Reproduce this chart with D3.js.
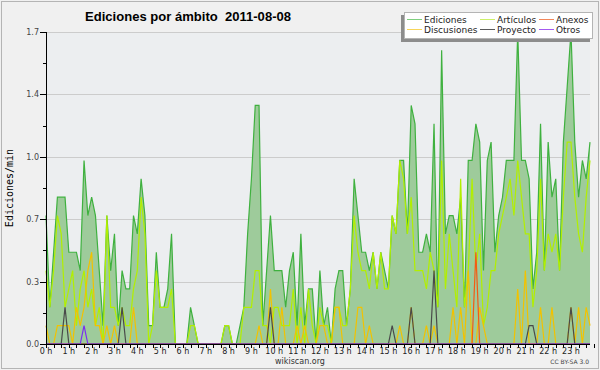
<!DOCTYPE html>
<html>
<head>
<meta charset="utf-8">
<script src="https://cdn.jsdelivr.net/npm/d3@7"></script>
<style>
  body { margin: 0; background: #fff; }
  svg text { font-family: "DejaVu Sans", sans-serif; }
</style>
</head>
<body>
<div id="chart"></div>
<script>
// 10-minute bins over the day, edits per minute
const ediciones = [
  0.7,0.2,0.5,0.8,0.8,0.8,0.5,0.5,0.5,0.4, 1.0,0.7,0.8,0.7,0.4,0.1,0.7,0.4,0.6,0.1,
  0.4,0.3,0.3,0.7,0.6,0.9,0.7,0.1,0.1,0.5, 0.2,0.2,0.3,0.6,0,0,
  0,0,0.2,0.1,0,0,0,0,0,0, 0,0.1,0.1,0,0,0.1,0.2,0.6,0.9,1.3,
  1.3,0.1,0.4,0.7,0.4,0.4,0.4,0.2,0.4,0.5, 0.1,0.6,0.1,0.3,0.3,0,
  0.4,0.1,0.2,0,0.3,0.4,0.4,0.1,0.3,0.9, 0.7,0.5,0.5,0.4,0.5,0.3,0.5,0.4,0.3,0.7,
  0.6,1.0,1.0,0.6,1.3,1.2,0.5,0.5,0.6,0.5, 1.2,0.2,1.6,0.6,0.7,0.7,
  0.6,0.8,0.2,1.0,1.0,1.2,1.1,0.4,1.0,1.1, 0.5,0.7,0.8,1.0,1.0,1.0,1.7,1.0,1.0,0.9,
  0.3,0.5,1.2,0.4,1.1,0.8,0.9,0.4,1.1,1.4, 1.7,1.1,0.8,1.0,0.9,1.1
];
const articulos = [
  0.4,0.2,0.4,0.7,0.6,0.2,0.3,0.4,0.1,0.3, 0.4,0.2,0.3,0.1,0.2,0,0.7,0.2,0.2,0.1,
  0.2,0.1,0.1,0.3,0.4,0.8,0.6,0,0.1,0.4, 0.2,0.2,0.2,0.3,0,0,
  0,0,0.1,0.1,0,0,0,0,0,0, 0,0.1,0.1,0,0,0,0.2,0.2,0.2,0.4,
  0.4,0.1,0.1,0,0.2,0.2,0.1,0.1,0.1,0.3, 0,0.2,0,0.3,0.1,0,
  0.2,0.1,0.1,0,0.2,0.2,0.1,0.1,0.3,0.7, 0.5,0.4,0.4,0.3,0.5,0.3,0.5,0.3,0.3,0.7,
  0.6,1.0,0.9,0.6,0.8,0.4,0.4,0.4,0.3,0.5, 0.4,0.2,1.0,0.3,0.6,0.4,
  0.2,0.9,0.2,0.4,0.9,0.4,0.6,0.1,0.2,0.4, 0.4,0.6,0.7,0.8,0.9,0.7,1.0,0.8,0.6,0.6,
  0.2,0.4,0.9,0.4,0.6,0.5,0.6,0.4,0.8,1.1, 1.1,0.8,0.6,0.5,0.8,1.0
];
const discusiones = [
  0.1,0,0,0.1,0.1,0.1,0.1,0,0.2,0.1, 0.2,0.4,0.5,0.1,0.1,0,0.1,0,0.1,0,
  0,0,0,0.2,0,0,0,0,0,0, 0,0,0,0,0,0,
  0,0,0,0,0,0,0,0,0,0, 0,0,0,0,0,0,0,0,0,0,
  0.1,0,0,0.3,0,0,0.2,0,0,0, 0.1,0,0.1,0,0,0,
  0.1,0.1,0,0,0.2,0.2,0,0,0,0, 0.2,0.2,0,0.1,0,0,0,0,0,0,
  0,0.1,0,0,0.2,0,0,0,0.1,0, 0.1,0,0,0,0,0.2,
  0,0.2,0,0.4,0,0,0.2,0.1,0,0, 0,0,0,0,0,0,0.3,0,0.4,0,
  0,0,0.2,0,0,0.2,0,0,0,0, 0.2,0,0.2,0,0.2,0.1
];
const proyecto = [
  0,0,0,0,0,0.2,0,0,0,0, 0,0,0,0,0,0,0,0,0,0,
  0.2,0,0,0,0,0,0,0,0,0, 0,0,0,0,0,0,
  0,0,0,0,0,0,0,0,0,0, 0,0,0,0,0,0,0,0,0,0,
  0,0,0,0.2,0,0,0,0,0,0, 0,0,0,0,0,0,
  0,0,0,0,0,0,0,0,0,0, 0,0,0,0,0,0,0,0,0,0.1,
  0,0,0,0,0.2,0,0,0,0,0, 0.4,0,0,0,0,0,
  0,0,0,0,0,0,0,0,0,0, 0,0,0,0,0,0,0,0,0,0.1,
  0.1,0,0,0,0,0,0,0,0,0, 0.2,0,0,0,0,0
];
const anexosIdx = [113];
const anexosVal = [0.5];
const otrosIdx = [10];
const otrosVal = [0.1];

const hours = d3.range(0, 24);
const yTicks = [0, 0.34, 0.68, 1.02, 1.36, 1.7];

const legendNames = ["Ediciones", "Artículos", "Anexos", "Discusiones", "Proyecto", "Otros"];
const legendColors = ["#7fcf7f", "#cdf06a", "#f2875a", "#f7d55a", "#5a5a5a", "#a45af0"];

const n = ediciones.length;
const sparse = (idx, val) => {
  const a = new Array(n).fill(0);
  idx.forEach((k, j) => a[k] = val[j]);
  return a;
};
const anexos = sparse(anexosIdx, anexosVal);
const otros = sparse(otrosIdx, otrosVal);

const W = 600, H = 370;
const svg = d3.select("#chart").append("svg")
  .attr("width", W).attr("height", H);

// background and frame
svg.append("rect").attr("width", W).attr("height", H).attr("fill", "#f0f0f0");
svg.append("rect")
  .attr("x", 1.5).attr("y", 1.5).attr("width", W - 3).attr("height", H - 3)
  .attr("fill", "none").attr("stroke", "#b4b4b4");

const x = d3.scaleLinear().domain([0, n - 1]).range([46, 590]);
const y = d3.scaleLinear().domain([0, 1.7]).range([344, 32]);

// plot area
svg.append("rect")
  .attr("x", 46).attr("y", 32).attr("width", 544).attr("height", 312)
  .attr("fill", "#eceef0");

// grid
svg.selectAll(".grid")
  .data(yTicks.slice(1))
  .enter().append("line")
  .attr("x1", 46).attr("x2", 590)
  .attr("y1", d => Math.round(y(d)) + 0.5).attr("y2", d => Math.round(y(d)) + 0.5)
  .attr("stroke", "#cccccc");

// area + lines
const area = d3.area()
  .x((d, i) => x(i)).y0(y(0)).y1(d => y(d));
svg.append("path").datum(ediciones)
  .attr("d", area).attr("fill", "#9ecb9b");

const line = d3.line().x((d, i) => x(i)).y(d => y(d));
const series = [
  { data: ediciones, color: "#3fb13f" },
  { data: articulos, color: "#b2ef00" },
  { data: discusiones, color: "#f2c200" },
  { data: anexos, color: "#f45a14" },
  { data: proyecto, color: "#4a4a4a" },
  { data: otros, color: "#7a2ff0" }
];
series.forEach(s => {
  svg.append("path").datum(s.data)
    .attr("d", line)
    .attr("fill", "none")
    .attr("stroke", s.color)
    .attr("stroke-width", 1.2)
    .attr("stroke-linejoin", "miter");
});

// y axis
const yAxis = svg.append("g");
yAxis.append("line")
  .attr("x1", 46.5).attr("x2", 46.5).attr("y1", 32).attr("y2", 344)
  .attr("stroke", "#000");
const yMinor = d3.range(0, 11).map(k => k * 0.17);
yAxis.selectAll(".ym").data(yMinor).enter().append("line")
  .attr("x1", (d, i) => i % 2 === 0 ? 40 : 43).attr("x2", 46)
  .attr("y1", d => Math.round(y(d)) + 0.5).attr("y2", d => Math.round(y(d)) + 0.5)
  .attr("stroke", "#000");
yAxis.selectAll(".yl").data(yTicks).enter().append("text")
  .attr("x", 39).attr("y", d => y(d) + 3)
  .attr("text-anchor", "end")
  .style("font-size", "8px").style("fill", "#444")
  .text(d => d3.format(".1f")(d));

svg.append("text")
  .attr("transform", "translate(13,188) rotate(-90)")
  .attr("text-anchor", "middle")
  .style("font-family", "'DejaVu Sans Mono', monospace")
  .style("font-size", "10px").style("fill", "#000")
  .text("Ediciones/min");

// x axis
const xAxis = svg.append("g");
xAxis.append("line")
  .attr("x1", 46).attr("x2", 590).attr("y1", 344.5).attr("y2", 344.5)
  .attr("stroke", "#000");
xAxis.selectAll(".xt").data(d3.range(0, n + 1, 2)).enter().append("line")
  .attr("x1", d => Math.round(x(d)) + 0.5).attr("x2", d => Math.round(x(d)) + 0.5)
  .attr("y1", 344).attr("y2", 348)
  .attr("stroke", "#000");
xAxis.selectAll(".xl").data(hours).enter().append("text")
  .attr("x", d => x(d * 6)).attr("y", 354)
  .attr("text-anchor", "middle")
  .style("font-size", "8px").style("fill", "#222")
  .text(d => d + " h");

// title and credits
svg.append("text")
  .attr("x", 85).attr("y", 21)
  .attr("textLength", 206).attr("lengthAdjust", "spacingAndGlyphs")
  .style("white-space", "pre")
  .style("font-family", "'Liberation Sans', sans-serif")
  .style("font-size", "12.5px").style("font-weight", "bold")
  .text("Ediciones por ámbito  2011-08-08");
svg.append("text")
  .attr("x", 300).attr("y", 364).attr("text-anchor", "middle")
  .style("font-size", "8px").style("fill", "#333")
  .text("wikiscan.org");
svg.append("text")
  .attr("x", 589).attr("y", 364).attr("text-anchor", "end")
  .style("font-size", "6px").style("fill", "#444")
  .text("CC BY-SA 3.0");

// legend
const lg = svg.append("g");
lg.append("rect").attr("x", 401).attr("y", 15).attr("width", 189).attr("height", 27)
  .attr("fill", "#8c8c8c");
lg.append("rect").attr("x", 404.5).attr("y", 12.5).attr("width", 188).attr("height", 26)
  .attr("fill", "#fff").attr("stroke", "#b4b4b4");
const colX = [407, 480, 539];
const rowY = [19, 29];
legendNames.forEach((name, k) => {
  const cx = colX[k % 3], cy = rowY[Math.floor(k / 3)];
  lg.append("line")
    .attr("x1", cx).attr("x2", cx + 15).attr("y1", cy + 0.5).attr("y2", cy + 0.5)
    .attr("stroke", legendColors[k]);
  lg.append("text")
    .attr("x", cx + 17).attr("y", cy + 3.5)
    .style("font-size", "9px").style("fill", "#222")
    .text(name);
});
</script>
</body>
</html>
